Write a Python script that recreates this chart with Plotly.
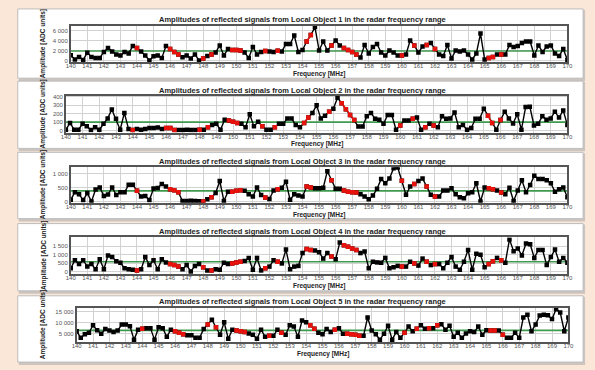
import plotly.graph_objects as go

W, H = 595, 370

# Frequency grid (MHz), 0.25 MHz step over 140..170
FREQ = [140 + 0.25 * k for k in range(121)]

obj1 = [1040, 200, 700, 100, 1560, 700, 500, 500, 1700, 2500, 1800, 1200, 1000, 1700, 1400, 2900,
        2500, 1800, 1000, 0, 850, 1000, 500, 2900, 2300, 1700, 1200, 650, 1000, 400, 1200, 0,
        400, 900, 1200, 1600, 3000, 1000, 2300, 2100, 2100, 2000, 1600, 500, 2700, 1200, 1700, 1900,
        1800, 1700, 1950, 1800, 3300, 3300, 5000, 1700, 2100, 3800, 5100, 6700, 2000, 3800, 2000, 3000,
        4000, 3000, 2500, 2100, 1700, 1200, 600, 3100, 1400, 2700, 3300, 1600, 1000, 2000, 1600, 1000,
        1000, 1200, 4000, 3000, 1600, 2800, 3100, 3500, 2300, 1200, 900, 3100, 400, 2000, 1800, 2000,
        1200, 200, 1400, 5400, 200, 500, 700, 1200, 1200, 1200, 3100, 2700, 2900, 3500, 3800, 3800,
        1000, 3000, 1700, 2800, 3000, 1400, 900, 2300, 100]

obj2 = [10, 90, 10, 10, 80, 50, 8, 40, 10, 80, 145, 250, 140, 10, 210, 20,
        8, 20, 10, 20, 30, 30, 35, 20, 30, 30, 8, 8, 8, 10, 8, 8,
        10, 10, 40, 65, 80, 10, 130, 120, 105, 90, 80, 40, 195, 50, 105, 50,
        10, 10, 40, 80, 80, 145, 145, 65, 40, 90, 155, 210, 300, 145, 175, 225,
        260, 390, 325, 255, 185, 125, 47, 47, 170, 210, 140, 130, 80, 185, 185, 10,
        60, 120, 120, 140, 155, 10, 40, 80, 60, 40, 170, 140, 145, 215, 40, 65,
        10, 30, 140, 140, 260, 175, 90, 10, 125, 225, 145, 85, 195, 10, 280, 285,
        60, 80, 170, 130, 145, 225, 155, 240, 65]

obj3 = [60, 330, 260, 50, 300, 0, 430, 500, 200, 250, 500, 230, 330, 330, 600, 600,
        380, 180, 200, 50, 460, 480, 620, 530, 440, 400, 330, 20, 20, 30, 20, 10,
        0, 80, 150, 300, 730, 20, 350, 350, 380, 400, 380, 260, 180, 500, 230, 140,
        90, 390, 440, 490, 700, 60, 260, 210, 180, 530, 500, 470, 470, 490, 1080, 760,
        450, 450, 390, 350, 330, 320, 260, 180, 80, 210, 450, 800, 650, 820, 1180, 1210,
        740, 240, 530, 620, 730, 820, 530, 240, 180, 180, 390, 390, 470, 260, 150, 120,
        290, 330, 650, 0, 500, 470, 440, 390, 320, 260, 490, 20, 390, 760, 330, 590,
        920, 800, 800, 760, 650, 350, 440, 500, 150]

obj4 = [190, 670, 440, 670, 290, 440, 130, 730, 130, 960, 860, 610, 520, 190, 130, 100,
        60, 130, 860, 380, 670, 130, 730, 540, 440, 380, 290, 130, 380, 0, 330, 440,
        250, 60, 60, 130, 100, 520, 440, 480, 540, 580, 630, 810, 100, 810, 60, 190,
        290, 670, 580, 480, 1310, 130, 290, 330, 1100, 1350, 1290, 1250, 1150, 770, 1100, 900,
        730, 1730, 1570, 1480, 1380, 1290, 1100, 1190, 190, 580, 540, 520, 810, 190, 250, 330,
        290, 290, 580, 480, 350, 770, 580, 380, 440, 440, 190, 520, 860, 290, 100, 580,
        1290, 100, 1060, 1000, 250, 440, 610, 810, 670, 520, 1920, 1210, 1380, 960, 1670, 1630,
        810, 1290, 1290, 380, 860, 1310, 580, 810, 520]

obj5 = [6100, 3100, 4700, 5400, 8800, 6500, 5000, 7100, 6400, 5700, 6400, 9100, 9100, 8400, 2300, 6800,
        7200, 7500, 7500, 2300, 7900, 7500, 3600, 6800, 6100, 5400, 4700, 4300, 4300, 3100, 3100, 7100,
        9100, 11300, 7900, 4500, 10200, 2700, 6800, 6400, 6100, 5700, 5100, 4500, 2700, 6800, 3600, 4000,
        4000, 6800, 5400, 4500, 8800, 8200, 3600, 10900, 10200, 8800, 7200, 5400, 4700, 7100, 5800, 6800,
        7500, 5000, 5000, 4700, 4500, 4000, 4000, 12300, 6400, 4700, 2300, 5000, 8600, 2300, 5800, 3100,
        5400, 8200, 6100, 7200, 8800, 7200, 7500, 7500, 8800, 9200, 6800, 8600, 3600, 5400, 3100, 5100,
        6100, 5700, 8200, 4500, 6500, 6400, 6400, 6400, 4500, 3100, 3100, 5400, 3100, 12300, 13600, 6100,
        9100, 13200, 13600, 13300, 11600, 16000, 14600, 6100, 12300]

SERIES = [obj1, obj2, obj3, obj4, obj5]

# Indices of frequency channels flagged in red
RED_IDX = [16, 24, 25, 26, 32, 34, 39, 40, 41, 47, 50, 57, 58, 63, 66, 67, 68, 69,
           80, 83, 86, 88, 101, 102, 104]

THRESHOLDS = [1900, 100, 380, 580, 6500]

Y_TICKVALS = [[0, 2000, 4000, 6000],
              [0, 100, 200, 300, 400],
              [0, 500, 1000],
              [0, 500, 1000, 1500],
              [5000, 10000, 15000]]
Y_TICKTEXT = [["0", "2 000", "4 000", "6 000"],
              ["0", "100", "200", "300", "400"],
              ["0", "500", "1 000"],
              ["0", "500", "1 000", "1 500"],
              ["5 000", "10 000", "15 000"]]
Y_RANGES = [[-390, 6970], [-24, 412], [-46, 1222], [-156, 2037], [1100, 16760]]

X_TICKS = list(range(140, 171))

# layout geometry in pixels: (panel top, panel bottom, plot left, plot right, plot top, plot bottom)
PANELS = [(7, 77, 67, 573, 24, 61),
          (80, 148, 62, 573, 95, 132),
          (152, 219, 67, 573, 167, 203),
          (224, 292, 67, 573, 238, 275),
          (297, 364, 73, 574, 309, 344)]
PANEL_L, PANEL_R = 13, 589


def fx(x):
    return x / W


def fy(y):
    return 1 - y / H


FONT = "Liberation Sans, Arial, sans-serif"
fig = go.Figure()
shapes = []
annotations = []
layout_axes = {}

for k, (vals, thr) in enumerate(zip(SERIES, THRESHOLDS)):
    n = k + 1
    xa = "x" if n == 1 else f"x{n}"
    ya = "y" if n == 1 else f"y{n}"
    pt, pb, L, R, T, B = PANELS[k]

    # panel card: shadow + white body
    shapes.append(dict(type="rect", xref="paper", yref="paper", layer="below",
                       x0=fx(PANEL_L + 1), x1=fx(PANEL_R + 2), y0=fy(pb + 3), y1=fy(pt + 1),
                       fillcolor="#cbc4bf", line=dict(width=0)))
    shapes.append(dict(type="rect", xref="paper", yref="paper", layer="below",
                       x0=fx(PANEL_L), x1=fx(PANEL_R), y0=fy(pb), y1=fy(pt),
                       fillcolor="white", line=dict(color="#bdbdbd", width=1)))

    fig.add_trace(go.Scatter(x=[140, 170], y=[thr, thr], mode="lines",
                             line=dict(color="#3f9a4e", width=1.6),
                             xaxis=xa, yaxis=ya, hoverinfo="skip", showlegend=False))
    fig.add_trace(go.Scatter(x=FREQ, y=vals, mode="lines+markers",
                             line=dict(color="black", width=1.4),
                             marker=dict(symbol="square", size=4.5, color="black"),
                             xaxis=xa, yaxis=ya, showlegend=False))
    rx = [FREQ[i] if i in RED_IDX else None for i in range(len(FREQ))]
    ry = [vals[i] if i in RED_IDX else None for i in range(len(FREQ))]
    fig.add_trace(go.Scatter(x=rx, y=ry, mode="lines+markers", connectgaps=False,
                             line=dict(color="#e8120c", width=1.4),
                             marker=dict(symbol="square", size=4.5, color="#e8120c"),
                             xaxis=xa, yaxis=ya, showlegend=False))

    key_x = "xaxis" if n == 1 else f"xaxis{n}"
    key_y = "yaxis" if n == 1 else f"yaxis{n}"
    layout_axes[key_x] = dict(domain=[fx(L), fx(R)], anchor=ya, range=[140, 170],
                              tickvals=X_TICKS, ticktext=[str(t) for t in X_TICKS],
                              tickfont=dict(size=6, color="#555", family=FONT),
                              ticklabelstandoff=-3,
                              showgrid=True, gridcolor="#d2d2d2", gridwidth=1,
                              showline=True, mirror=True, linecolor="#555", linewidth=1.5,
                              ticks="", zeroline=False, fixedrange=True)
    layout_axes[key_y] = dict(domain=[fy(B), fy(T)], anchor=xa, range=Y_RANGES[k],
                              tickvals=Y_TICKVALS[k], ticktext=Y_TICKTEXT[k],
                              tickfont=dict(size=6, color="#555", family=FONT),
                              showgrid=True, gridcolor="#d2d2d2", gridwidth=1,
                              showline=True, mirror=True, linecolor="#555", linewidth=1.5,
                              ticks="", zeroline=False, fixedrange=True)

    annotations.append(dict(xref="paper", yref="paper", x=fx(303), y=fy(T - 6),
                            text=f"<b>Amplitudes of reflected signals from Local Object {n} in the radar frequency range</b>",
                            showarrow=False, font=dict(size=7.5, color="#222", family=FONT),
                            xanchor="center", yanchor="middle"))
    annotations.append(dict(xref="paper", yref="paper", x=fx((L + R) / 2), y=fy(B + 12),
                            text="<b>Frequency [MHz]</b>", showarrow=False,
                            font=dict(size=6.5, color="#222", family=FONT),
                            xanchor="center", yanchor="middle"))
    annotations.append(dict(xref="paper", yref="paper", x=fx(39), y=fy((T + B) / 2),
                            text="<b>Amplitude [ADC units]</b>", showarrow=False, textangle=-90,
                            font=dict(size=6.5, color="#222", family=FONT),
                            xanchor="center", yanchor="middle"))

fig.update_layout(width=W, height=H, margin=dict(l=0, r=0, t=0, b=0),
                  paper_bgcolor="#fbe7d8", plot_bgcolor="white",
                  shapes=shapes, annotations=annotations, **layout_axes)

fig.write_html("out.html")
